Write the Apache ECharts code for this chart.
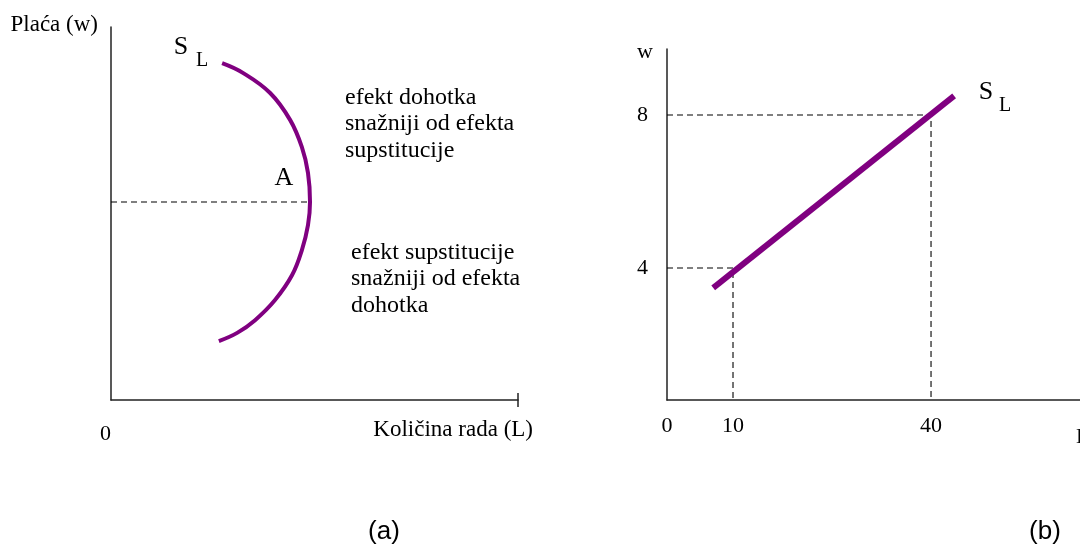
<!DOCTYPE html>
<html>
<head>
<meta charset="utf-8">
<script src="https://cdn.jsdelivr.net/npm/echarts@6/dist/echarts.min.js"></script>
<style>
  html, body { margin: 0; padding: 0; background: #fff; }
  #chart { width: 1080px; height: 547px; }
</style>
</head>
<body>
<div id="chart"></div>
<script>
// (a) backward-bending supply curve, arbitrary units 0..100
const curveL = [27.3, 32.4, 39.1, 44.0, 46.9, 48.4, 48.9, 48.4, 46.9, 44.5, 40.3, 35.4, 31.0, 26.5];
const curveW = [90.3, 87.7, 82.3, 75.1, 67.8, 60.9, 53.1, 46.9, 40.2, 33.5, 26.8, 21.4, 18.0, 15.8];
const pointA = [48.9, 53.1];

// (b) upward supply line
const supplyL = [7, 43.5];
const supplyW = [3.48, 8.5];
const guideL = [10, 40];
const guideW = [4, 8];
const xTicksB = [0, 10, 40];
const yTicksB = [4, 8];
const yMinB = 0.55;
const yMaxB = 9.725;

const serif = 'Liberation Serif';
const purple = '#800080';
const axisColor = '#222';
const textColor = '#000';

const chart = echarts.init(document.getElementById('chart'));

const curveData = curveL.map((l, i) => [l, curveW[i]]);
const supplyData = supplyL.map((l, i) => [l, supplyW[i]]);

const dashed = { color: '#000', width: 1.1, type: [6, 4] };
const axisLine = { show: true, onZero: false, lineStyle: { color: axisColor, width: 1.5 } };

const option = {
    animation: false,
    grid: [
        { left: 111, top: 27, width: 407, height: 373, outerBoundsMode: 'none' },
        { left: 667, top: 49, width: 433, height: 351, outerBoundsMode: 'none' }
    ],
    xAxis: [
        {
            type: 'value', gridIndex: 0, min: 0, max: 100,
            axisLine: axisLine,
            splitLine: { show: false },
            axisTick: { show: true, customValues: [100], length: 7, lineStyle: { color: axisColor, width: 1.5 } },
            axisLabel: {
                customValues: [0], margin: 23, align: 'right',
                fontFamily: serif, fontSize: 22, color: textColor
            },
            name: 'Količina rada (L)',
            nameLocation: 'end',
            nameGap: 15,
            nameTextStyle: {
                fontFamily: serif, fontSize: 23, color: textColor,
                align: 'right', verticalAlign: 'top', padding: [18, 0, 0, 0]
            }
        },
        {
            type: 'value', gridIndex: 0, min: 0, max: 100, position: 'bottom',
            axisLine: { show: false },
            splitLine: { show: false },
            axisLabel: { show: false },
            axisTick: { show: true, inside: true, customValues: [100], length: 7, lineStyle: { color: axisColor, width: 1.5 } }
        },
        {
            type: 'value', gridIndex: 1, min: 0, max: 65.6,
            axisLine: axisLine,
            splitLine: { show: false },
            axisTick: { show: false },
            axisLabel: {
                customValues: xTicksB, margin: 15,
                fontFamily: serif, fontSize: 22, color: textColor
            }
        }
    ],
    yAxis: [
        {
            type: 'value', gridIndex: 0, min: 0, max: 100,
            axisLine: axisLine,
            splitLine: { show: false },
            axisTick: { show: false },
            axisLabel: { show: false },
            name: 'Plaća (w)',
            nameLocation: 'end',
            nameGap: 2,
            nameTextStyle: {
                fontFamily: serif, fontSize: 23, color: textColor,
                align: 'right', verticalAlign: 'middle', padding: [0, 13, 0, 0]
            }
        },
        {
            type: 'value', gridIndex: 1, min: yMinB, max: yMaxB,
            axisLine: axisLine,
            splitLine: { show: false },
            axisTick: { show: false },
            axisLabel: {
                customValues: yTicksB, margin: 19,
                fontFamily: serif, fontSize: 22, color: textColor
            },
            name: 'w',
            nameLocation: 'end',
            nameGap: -3,
            nameTextStyle: {
                fontFamily: serif, fontSize: 22, color: textColor,
                align: 'right', verticalAlign: 'middle', padding: [0, 14, 0, 0]
            }
        }
    ],
    series: [
        {
            type: 'line', xAxisIndex: 0, yAxisIndex: 0,
            data: [[0, pointA[1]], pointA],
            symbol: 'none', lineStyle: dashed, z: 1
        },
        {
            type: 'line', xAxisIndex: 0, yAxisIndex: 0,
            data: curveData, smooth: 0.4,
            symbol: 'none',
            lineStyle: { color: purple, width: 4, cap: 'butt' },
            z: 3
        },
        {
            type: 'line', xAxisIndex: 2, yAxisIndex: 1,
            data: [[0, guideW[1]], [guideL[1], guideW[1]], [guideL[1], yMinB]],
            symbol: 'none', lineStyle: dashed, z: 1
        },
        {
            type: 'line', xAxisIndex: 2, yAxisIndex: 1,
            data: [[0, guideW[0]], [guideL[0], guideW[0]], [guideL[0], yMinB]],
            symbol: 'none', lineStyle: dashed, z: 1
        },
        {
            type: 'line', xAxisIndex: 2, yAxisIndex: 1,
            data: supplyData,
            symbol: 'none',
            lineStyle: { color: purple, width: 6, cap: 'butt' },
            z: 3
        }
    ],
    graphic: [
        // S_L labels
        { type: 'text', style: { text: 'S', x: 181, y: 47, font: '26px ' + serif, fill: textColor, textAlign: 'center', textVerticalAlign: 'middle' } },
        { type: 'text', style: { text: 'L', x: 202, y: 61, font: '20px ' + serif, fill: textColor, textAlign: 'center', textVerticalAlign: 'middle' } },
        { type: 'text', style: { text: 'S', x: 986, y: 92, font: '26px ' + serif, fill: textColor, textAlign: 'center', textVerticalAlign: 'middle' } },
        { type: 'text', style: { text: 'L', x: 1005, y: 106, font: '20px ' + serif, fill: textColor, textAlign: 'center', textVerticalAlign: 'middle' } },
        // point A
        { type: 'text', style: { text: 'A', x: 284, y: 178, font: '26px ' + serif, fill: textColor, textAlign: 'center', textVerticalAlign: 'middle' } },
        // notes
        { type: 'text', style: { text: 'efekt dohotka\nsnažniji od efekta\nsupstitucije', x: 345, y: 84, font: '24px ' + serif, lineHeight: 26.5, fill: textColor, textVerticalAlign: 'top' } },
        { type: 'text', style: { text: 'efekt supstitucije\nsnažniji od efekta\ndohotka', x: 351, y: 239, font: '24px ' + serif, lineHeight: 26.5, fill: textColor, textVerticalAlign: 'top' } },
        // right x axis name, cut by the edge
        { type: 'text', style: { text: 'L', x: 1076, y: 437, font: '22px ' + serif, fill: textColor, textVerticalAlign: 'middle' } },
        // panel captions
        { type: 'text', style: { text: '(a)', x: 384, y: 532, font: '26px Liberation Sans', fill: '#000', textAlign: 'center', textVerticalAlign: 'middle' } },
        { type: 'text', style: { text: '(b)', x: 1045, y: 532, font: '26px Liberation Sans', fill: '#000', textAlign: 'center', textVerticalAlign: 'middle' } }
    ]
};

chart.setOption(option);
</script>
</body>
</html>
